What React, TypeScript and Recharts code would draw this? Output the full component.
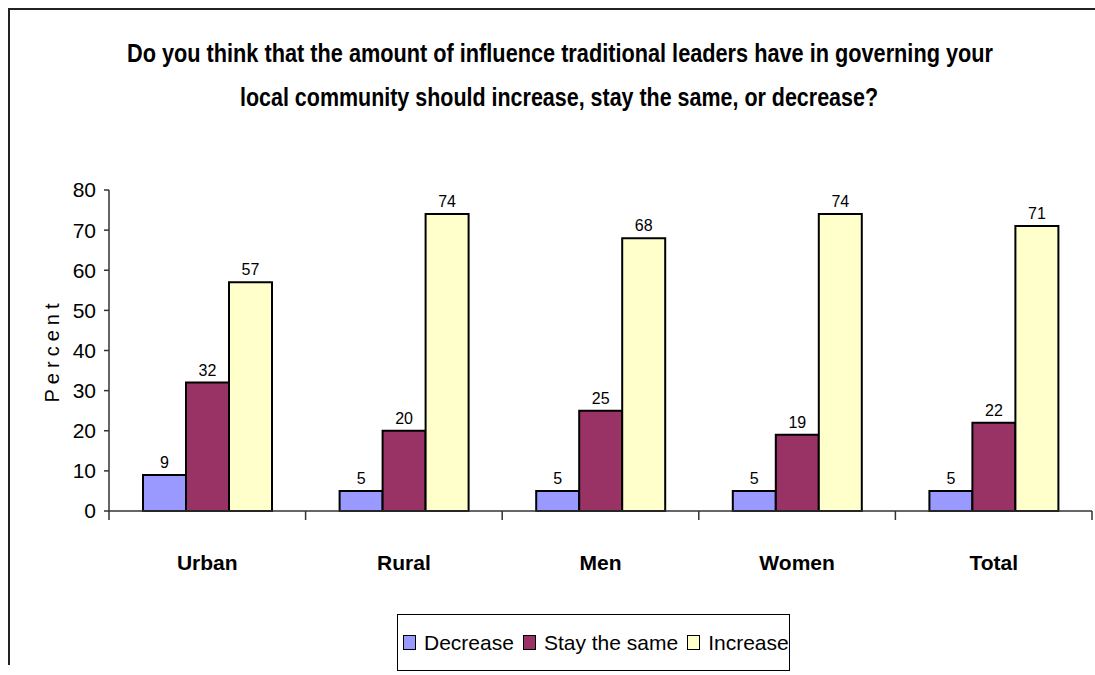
import React from "react";
import { BarChart, Bar, XAxis, YAxis, Legend, LabelList } from "recharts";

const categories = ["Urban", "Rural", "Men", "Women", "Total"];
const decrease = [9, 5, 5, 5, 5];
const stayTheSame = [32, 20, 25, 19, 22];
const increase = [57, 74, 68, 74, 71];
const yTicks = [0, 10, 20, 30, 40, 50, 60, 70, 80];

const series = [
  { key: "decrease", name: "Decrease", color: "#9999FF" },
  { key: "stay", name: "Stay the same", color: "#993366" },
  { key: "increase", name: "Increase", color: "#FFFFCC" },
];

const data = categories.map((name, i) => ({
  name,
  decrease: decrease[i],
  stay: stayTheSame[i],
  increase: increase[i],
}));

const FONT = "'Liberation Sans', Arial, sans-serif";
const BAND = 983 / 5;

const CategoryTick = (props: any) => {
  const { x, y, payload, index } = props;
  const left = x - BAND / 2;
  const right = x + BAND / 2;
  return (
    <g>
      <line x1={left} y1={y} x2={left} y2={y + 9} stroke="#333" strokeWidth={1.5} />
      {index === categories.length - 1 && (
        <line x1={right} y1={y} x2={right} y2={y + 9} stroke="#333" strokeWidth={1.5} />
      )}
      <text
        x={x}
        y={y + 59}
        textAnchor="middle"
        fontFamily={FONT}
        fontWeight="bold"
        fontSize={21}
        fill="#000"
      >
        {payload.value}
      </text>
    </g>
  );
};

const renderLegend = () => (
  <div
    style={{
      width: 393,
      height: 57,
      border: "1.5px solid #000",
      boxSizing: "border-box",
      display: "flex",
      alignItems: "center",
      paddingLeft: 5,
      fontFamily: FONT,
      fontSize: 21,
      color: "#000",
      background: "#fff",
      whiteSpace: "nowrap",
    }}
  >
    {series.map((s) => (
      <span key={s.key} style={{ display: "flex", alignItems: "center", marginRight: 9 }}>
        <span
          style={{
            display: "inline-block",
            width: 11,
            height: 13,
            background: s.color,
            border: "1.5px solid #000",
            marginRight: 8,
          }}
        />
        {s.name}
      </span>
    ))}
  </div>
);

const App = () => {
  return (
    <div style={{ position: "relative", width: 1095, height: 675, overflow: "visible" }}>
      <style>{`html, body { margin: 0; padding: 0; overflow: hidden; } #root { width: 1095px; height: 675px; overflow: visible; }`}</style>
      <div
        style={{
          position: "absolute",
          left: 8,
          top: 8,
          width: 1085,
          height: 655,
          borderLeft: "2px solid #222",
          borderTop: "2px solid #222",
          background: "#fff",
          overflow: "visible",
        }}
      >
        <svg
          width={1085}
          height={120}
          style={{ position: "absolute", left: 0, top: 0 }}
        >
          <text
            x={117}
            y={52}
            textLength={866}
            lengthAdjust="spacingAndGlyphs"
            fontFamily={FONT}
            fontWeight="bold"
            fontSize={26}
            fill="#000"
          >
            Do you think that the amount of influence traditional leaders have in governing your
          </text>
          <text
            x={230}
            y={96}
            textLength={638}
            lengthAdjust="spacingAndGlyphs"
            fontFamily={FONT}
            fontWeight="bold"
            fontSize={26}
            fill="#000"
          >
            local community should increase, stay the same, or decrease?
          </text>
        </svg>
        <div style={{ position: "absolute", left: 0, top: 0 }}>
          <BarChart
            width={1085}
            height={663}
            data={data}
            margin={{ top: 180, right: 3, bottom: 132, left: 0 }}
            barSize={43}
            barGap={0}
          >
            <XAxis
              dataKey="name"
              height={30}
              axisLine={{ stroke: "#333", strokeWidth: 1.5 }}
              tickLine={false}
              tickSize={0}
              tickMargin={0}
              tick={<CategoryTick />}
              interval={0}
            />
            <YAxis
              width={99}
              domain={[0, 80]}
              ticks={yTicks}
              interval={0}
              axisLine={{ stroke: "#333", strokeWidth: 1.5 }}
              tickLine={{ stroke: "#333", strokeWidth: 1.5 }}
              tickSize={5}
              tickMargin={8}
              tick={{ fontFamily: FONT, fontSize: 21, fill: "#000" }}
              label={{
                value: "Percent",
                angle: -90,
                position: "insideLeft",
                offset: 42,
                style: {
                  fontFamily: FONT,
                  fontSize: 20,
                  letterSpacing: 5,
                  fill: "#000",
                  textAnchor: "middle",
                },
              }}
            />
            <Legend
              layout="horizontal"
              verticalAlign="middle"
              content={renderLegend}
              wrapperStyle={{ left: 387, top: 604, width: 393, height: 57 }}
            />
            {series.map((s) => (
              <Bar
                key={s.key}
                dataKey={s.key}
                name={s.name}
                fill={s.color}
                stroke="#000"
                strokeWidth={2}
                isAnimationActive={false}
              >
                <LabelList
                  dataKey={s.key}
                  position="top"
                  offset={7}
                  style={{ fontFamily: FONT, fontSize: 16, fill: "#000" }}
                />
              </Bar>
            ))}
          </BarChart>
        </div>
      </div>
    </div>
  );
};

export default App;
